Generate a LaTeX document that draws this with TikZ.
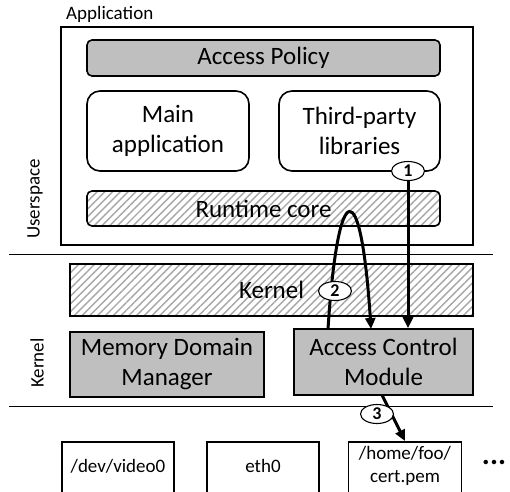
\documentclass[tikz,border=0pt]{standalone}
\usepackage{fontspec}
\setmainfont{Carlito}
\usetikzlibrary{arrows.meta,patterns.meta,shapes.geometric}
\definecolor{boxgray}{HTML}{BFBFBF}
\definecolor{hatchgray}{HTML}{A6A6A6}
\tikzset{
  big/.style={font=\fontsize{25}{30}\selectfont},
  small/.style={font=\fontsize{19}{23}\selectfont},
  hatch/.style={pattern={Lines[angle=45,distance=5.5pt,line width=1.4pt]},pattern color=hatchgray},
  thinsep/.style={line width=0.9pt},
  num/.style={ellipse,draw,line width=1.1pt,fill=white,minimum width=33pt,minimum height=19pt,inner sep=0pt,font=\fontsize{18}{18}\selectfont\bfseries},
  flow/.style={line width=3pt,-{Triangle[length=11pt,width=10pt]}},
}
\begin{document}
\begin{tikzpicture}[x=1pt,y=-1pt]
\useasboundingbox (0,0) rectangle (510,491);
\clip (0,0) rectangle (510,491);
% application
\node[small,anchor=base west,inner sep=0pt] (applbl) at (66,19) {Application};
\draw[line width=1.8pt] (61,27) rectangle (473,245);
\node[draw,line width=1.6pt,fill=boxgray,rounded corners=5pt,big,minimum width=353pt,minimum height=36pt,inner sep=0pt] (policy) at (263.5,58) {Access Policy};
\node[draw,line width=1.6pt,rounded corners=13pt,big,minimum width=162pt,minimum height=80pt,inner sep=0pt,align=center] (main) at (168,131) {Main\\application};
\node[draw,line width=1.6pt,rounded corners=13pt,big,minimum width=161pt,minimum height=80pt,inner sep=0pt,align=center] (third) at (359.5,131) {Third-party\\libraries};
\node[draw,line width=1.6pt,hatch,rounded corners=5pt,big,minimum width=353pt,minimum height=35pt,inner sep=0pt] (runtime) at (263.5,208.5) {Runtime core};
\node[small,rotate=90] (userlbl) at (35,199) {Userspace};
% separators
\coordinate (s1l) at (9,254);
\coordinate (s1r) at (493,254);
\draw[thinsep] (s1l) -- (s1r);
\coordinate (s2l) at (9,406);
\coordinate (s2r) at (493,406);
\draw[thinsep] (s2l) -- (s2r);
% kernel
\node[draw,line width=1.6pt,hatch,big,minimum width=403pt,minimum height=52pt,inner sep=0pt] (kernel) at (271.5,290) {Kernel};
\node[draw,line width=1.6pt,fill=boxgray,big,minimum width=194pt,minimum height=65pt,inner sep=0pt,align=center] (mdm) at (167,364.5) {Memory Domain\\Manager};
\node[draw,line width=1.6pt,fill=boxgray,big,minimum width=179pt,minimum height=66pt,inner sep=0pt,align=center] (acm) at (383.5,362) {Access Control\\Module};
\node[small,rotate=90] (kernlbl) at (37,363) {Kernel};
% resources
\node[draw,line width=1.6pt,minimum width=112pt,minimum height=60pt,inner sep=0pt,anchor=north] (video) at (118,441) {};
\node[small] (videotxt) at (118,466) {/dev/video0};
\node[draw,line width=1.6pt,minimum width=112pt,minimum height=60pt,inner sep=0pt,anchor=north] (eth) at (263,441) {};
\node[small] (ethtxt) at (263,466) {eth0};
\node[draw,line width=1.6pt,minimum width=113pt,minimum height=60pt,inner sep=0pt,anchor=north] (cert) at (405,441) {};
\node[small,align=center] (certtxt) at (405,466) {/home/foo/\\cert.pem};
\node[font=\fontsize{30}{30}\selectfont\bfseries,inner sep=0pt] (dots) at (494,462) {...};
% flows
\node[num] (n1) at (408,171) {1};
\draw[flow] (n1.south) -- (n1.south |- acm.north);
\coordinate (a2s) at (328,329);
\coordinate (a2e) at (371,329);
\draw[flow] (a2s) .. controls (338,174) and (361,174) .. (a2e);
\node[num] (n2) at (335,291) {2};
\coordinate (a3s) at (382,395);
\coordinate (a3e) at (405,441);
\draw[flow] (a3s) -- (a3e);
\node[num] (n3) at (377,414) {3};
\end{tikzpicture}
\end{document}
